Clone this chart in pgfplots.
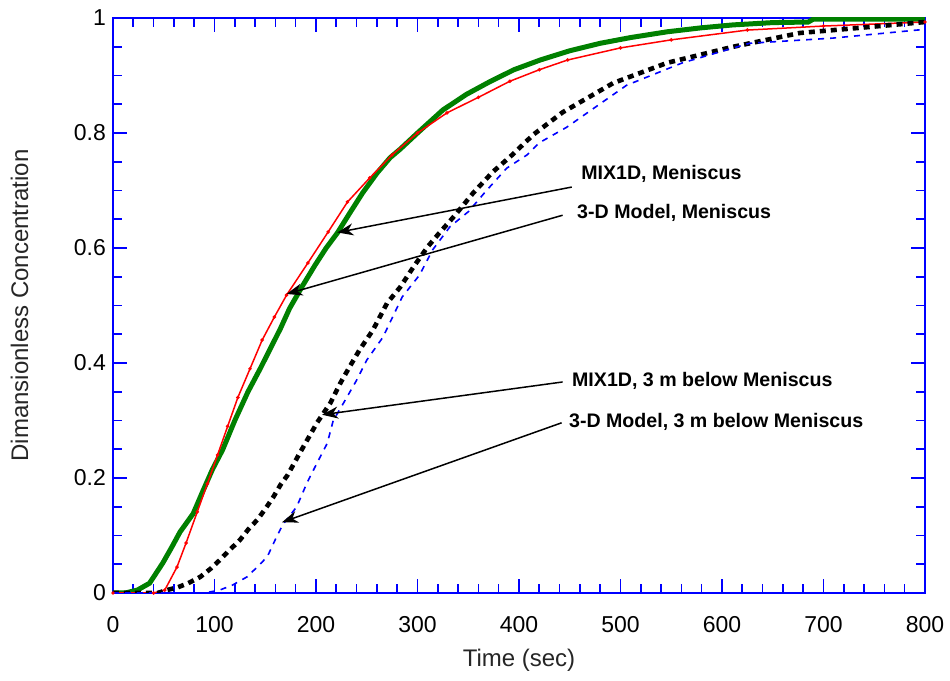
\documentclass[border=0pt]{standalone}
\usepackage{fontspec}
\setmainfont{Liberation Sans}
\usepackage{pgfplots}
\pgfplotsset{compat=1.18}
\usetikzlibrary{arrows.meta}
\definecolor{mygreen}{RGB}{0,128,0}
\begin{document}
\begin{tikzpicture}
\begin{axis}[
 scale only axis, width=406pt, height=287.5pt,
 at={(0,0)}, anchor=south west,
 xmin=0, xmax=800, ymin=0, ymax=1,
 xtick={0,100,200,300,400,500,600,700,800},
 ytick={0,0.2,0.4,0.6,0.8,1},
 minor x tick num=4, minor y tick num=3,
 tick align=inside,
 axis line style={blue, line width=1pt},
 every tick/.style={blue, line width=0.8pt},
 major tick length=7pt, minor tick length=4.5pt,
 ticklabel style={font=\fontsize{11.5}{13}\selectfont},
 xticklabel style={yshift=-8pt},
 /pgf/number format/assume math mode=true,
 xlabel={Time (sec)}, ylabel={Dimansionless Concentration},
 label style={font=\fontsize{12}{14}\selectfont, text=black!85},
 xlabel style={at={(axis description cs:0.5,-0.1165)}, anchor=center},
 ylabel style={at={(axis description cs:-0.115,0.5)}, anchor=center},
]
% MIX1D, Meniscus (green thick)
\addplot[mygreen, line width=2.5pt] coordinates {
(0,0) (12,0) (24,0.005) (36,0.017) (49,0.052) (58,0.08) (66,0.106) (79,0.138) (89,0.179) (98,0.215) (108,0.249) (120,0.30) (133,0.35) (145,0.39) (155,0.425) (165,0.46) (174,0.495) (187,0.535) (199,0.57) (210,0.60) (221,0.626) (233,0.66) (246,0.696) (260,0.73) (273,0.757) (283,0.772) (300,0.80) (325,0.84) (348,0.867) (371,0.889) (395,0.91) (421,0.927) (450,0.943) (480,0.956) (510,0.966) (546,0.976) (580,0.983) (611,0.988) (650,0.992) (685,0.993) (690,0.998) (800,0.998)
};
% 3-D Model, Meniscus (red thin)
\addplot[red, line width=0.75pt, mark=*, mark size=0.45pt] coordinates {
(0,0) (40,0) (51,0.005) (63,0.045) (72,0.087) (83,0.141) (93,0.19) (103,0.24) (113,0.29) (123,0.34) (135,0.39) (147,0.44) (159,0.48) (171,0.518) (192,0.574) (212,0.628) (231,0.68) (253,0.722) (275,0.762) (300,0.80) (329,0.835) (360,0.862) (391,0.89) (420,0.91) (448,0.927) (500,0.948) (550,0.962) (625,0.979) (700,0.986) (800,0.993)
};
% MIX1D, 3 m below (black dotted thick)
\addplot[black, line width=2.3pt, dash pattern=on 3pt off 2.5pt] coordinates {
(0,0) (44,0) (53,0.005) (64,0.01) (74,0.017) (86,0.028) (96,0.042) (105,0.057) (115,0.075) (125,0.092) (133,0.11) (142,0.127) (150,0.146) (158,0.167) (165,0.188) (172,0.205) (182,0.237) (191,0.265) (201,0.296) (214,0.33) (224,0.365) (233,0.393) (243,0.423) (256,0.457) (270,0.504) (283,0.532) (296,0.567) (310,0.602) (320,0.623) (337,0.657) (355,0.696) (374,0.732) (394,0.763) (414,0.797) (443,0.836) (493,0.887) (546,0.922) (611,0.95) (677,0.974) (743,0.984) (800,0.993)
};
% 3-D Model, 3 m below (blue dashed)
\addplot[blue, line width=0.8pt, dash pattern=on 3pt off 3pt] coordinates {
(0,0) (90,0) (105,0.005) (118,0.014) (132,0.028) (142,0.045) (152,0.063) (161,0.097) (167,0.118) (181,0.15) (191,0.191) (201,0.226) (211,0.26) (217,0.3) (227,0.33) (240,0.37) (250,0.405) (266,0.445) (285,0.515) (302,0.553) (315,0.597) (332,0.637) (350,0.663) (368,0.70) (388,0.739) (408,0.762) (420,0.783) (447,0.81) (506,0.883) (561,0.922) (627,0.956) (709,0.965) (792,0.979) (800,0.98)
};
% annotations
\tikzset{ann/.style={anchor=west, inner sep=0pt, font=\bfseries\fontsize{9.8}{11}\selectfont},
 arr/.style={black, line width=0.75pt, -{Stealth[length=8pt, width=6pt, inset=2.5pt]}}}
\draw[arr] (axis cs:452,0.706) -- (axis cs:221,0.627);
\draw[arr] (axis cs:443,0.657) -- (axis cs:171,0.52);
\draw[arr] (axis cs:443,0.367) -- (axis cs:206,0.31);
\draw[arr] (axis cs:442,0.296) -- (axis cs:166.5,0.123);
\node[ann] at (axis cs:461,0.729) {MIX1D, Meniscus};
\node[ann] at (axis cs:457,0.661) {3-D Model, Meniscus};
\node[ann] at (axis cs:452,0.369) {MIX1D, 3 m below Meniscus};
\node[ann] at (axis cs:449,0.298) {3-D Model, 3 m below Meniscus};
\end{axis}
\pgfresetboundingbox
\path (-56.5pt,-44pt) rectangle (418.5pt,296.5pt);
\end{tikzpicture}
\end{document}
